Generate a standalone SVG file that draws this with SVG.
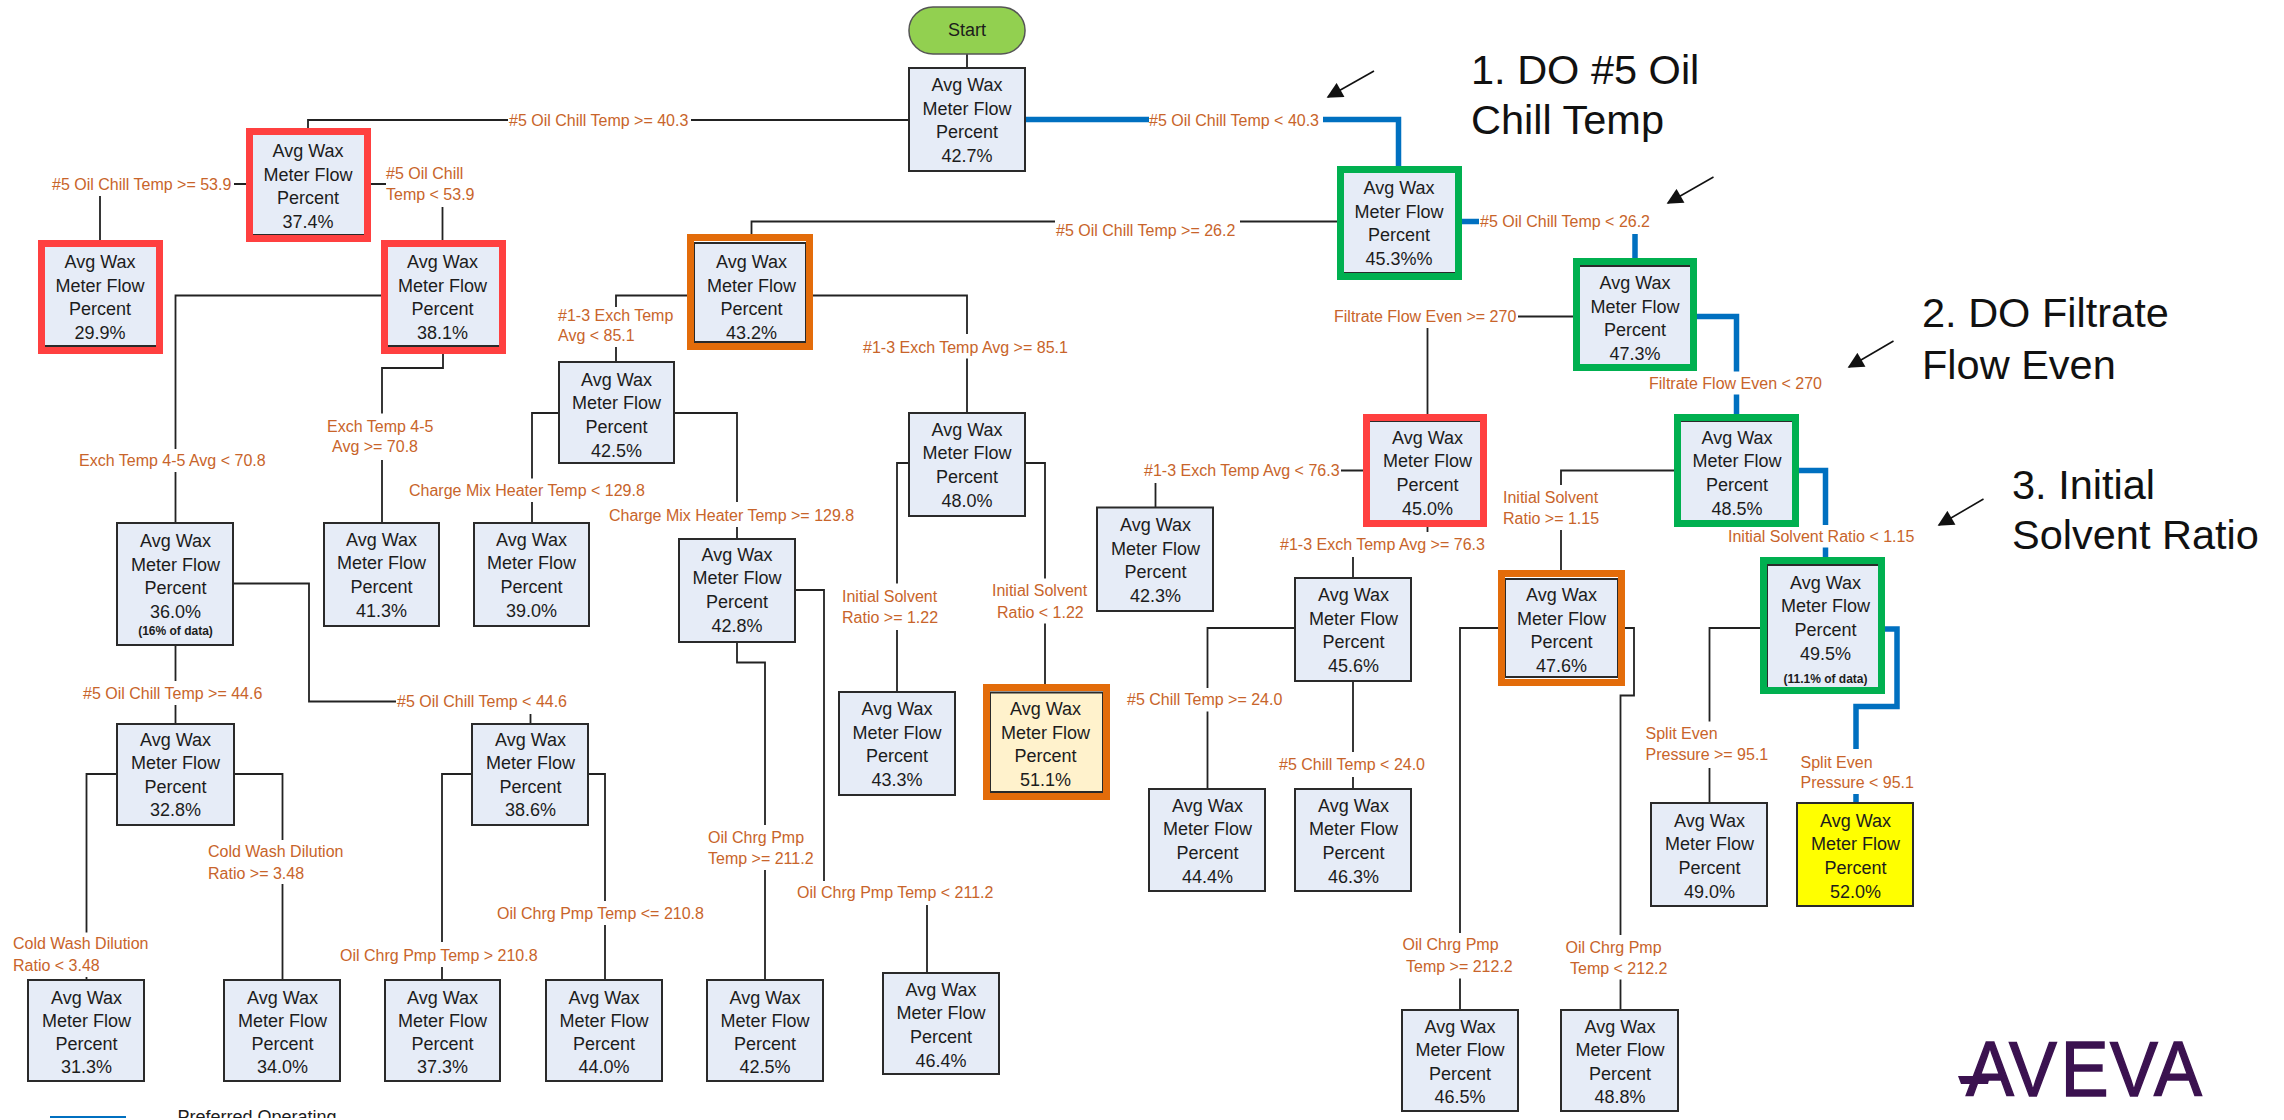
<svg xmlns="http://www.w3.org/2000/svg" width="2284" height="1120" viewBox="0 0 2284 1120">
<style>
.box{fill:#E6ECF7;stroke:#2a2a2a;stroke-width:2}
.yel{fill:#FFFF00;stroke:#2a2a2a;stroke-width:2}
.cream{fill:#FFF2CC;stroke:#2a2a2a;stroke-width:2}
.hr,.ho,.hg{fill:none;stroke-width:7}
.hr{stroke:#FF4040}.ho{stroke:#E36C0A}.hg{stroke:#00B050}
text{font-family:"Liberation Sans",Arial,sans-serif}
.t{font-size:18px;fill:#1c1c1c;text-anchor:middle}
.s{font-size:12px;font-weight:bold;fill:#1c1c1c;text-anchor:middle}
.l{font-size:16px;fill:#C8642A}
.c{font-size:41.500px;fill:#111}
.k path,.k line{fill:none;stroke:#222;stroke-width:1.8}
.b path{fill:none;stroke:#0070C0;stroke-width:5.5}
.a line{stroke:#111;stroke-width:1.6}
</style>
<defs>
<marker id="ah" markerWidth="18" markerHeight="16" refX="9" refY="5" orient="auto" markerUnits="userSpaceOnUse" viewBox="0 0 10 10"><path d="M0 0L10 5L0 10Z" fill="#111"/></marker>
</defs>
<g id="connectors">
<g class="k">
<path d="M967 54V68"/>
<path d="M909 120H691M508 120H308V128"/>
<path d="M246 184H234M100 196V240"/>
<path d="M371 184H386M442.500 207V240"/>
<path d="M381 295.500H175.500V449M175.500 472V523"/>
<path d="M443 346V368H382V413.500M382 460V523"/>
<path d="M1337 221.500H1240M1055 221.500H751.500V234"/>
<path d="M687 295.500H616V307M616 347V362"/>
<path d="M813 295.500H967V334M967 358.500V413"/>
<path d="M559 413H532V478.500M532 502V523"/>
<path d="M674 413H737V502M737 527V539"/>
<path d="M909 463H897V583.500M897 630V692"/>
<path d="M1025 463H1045V578.500M1045 623.500V684"/>
<path d="M175.500 645V681M175.500 705V724"/>
<path d="M233 583.500H309V701.500H396M530.500 714V724"/>
<path d="M117 774H86.500V932.500M86.500 977V980"/>
<path d="M234 774H282.500V840M282.500 884V980"/>
<path d="M472 774H442V942M442 967V980"/>
<path d="M588 774H605V901M605 925V980"/>
<path d="M737 642V662.500H765V825M765 870V980"/>
<path d="M795 590H824V881M927 905V973"/>
<path d="M1573 316.500H1518M1427.500 328V414"/>
<path d="M1674 470.500H1561V485M1561 530V570"/>
<path d="M1363 470.500H1341M1155.500 483V507.500"/>
<path d="M1427.500 527V532M1353 557V578"/>
<path d="M1295 628H1207.500V688M1207.500 711.500V789"/>
<path d="M1353 681V752M1353 777V789"/>
<path d="M1498 628H1460V933M1460 978.500V1010"/>
<path d="M1625 628H1634V695.500H1620.500V935M1620.500 979.500V1010"/>
<path d="M1760 628H1709.500V721.500M1709.500 768V803"/>
</g>
<g class="b">
<path d="M1022 119.500H1149M1323 119.500H1398.500V166"/>
<path d="M1455 221.500H1479M1635 234V266"/>
<path d="M1690 316.500H1736.500V371.500M1736.500 394.500V421"/>
<path d="M1792 470.500H1825.500V525M1825.500 547.500V565"/>
<path d="M1881 629H1897V706.500H1856V749M1856 794V803"/>
</g>
</g>
<g id="edge-labels">
<text class="l" x="509" y="125.500">#5 Oil Chill Temp &gt;= 40.3</text>
<text class="l" x="1149" y="125.500">#5 Oil Chill Temp &lt; 40.3</text>
<text class="l" x="52" y="189.500">#5 Oil Chill Temp &gt;= 53.9</text>
<text class="l" x="386" y="178.500">#5 Oil Chill</text>
<text class="l" x="386" y="199.500">Temp &lt; 53.9</text>
<text class="l" x="1056" y="235.500">#5 Oil Chill Temp &gt;= 26.2</text>
<text class="l" x="1480" y="226.500">#5 Oil Chill Temp &lt; 26.2</text>
<text class="l" x="1334" y="321.500">Filtrate Flow Even &gt;= 270</text>
<text class="l" x="1649" y="388.500">Filtrate Flow Even &lt; 270</text>
<text class="l" x="558" y="320.500">#1-3 Exch Temp</text>
<text class="l" x="558" y="340.500">Avg &lt; 85.1</text>
<text class="l" x="863" y="352.500">#1-3 Exch Temp Avg &gt;= 85.1</text>
<text class="l" x="79" y="465.500">Exch Temp 4-5 Avg &lt; 70.8</text>
<text class="l" x="327" y="431.500">Exch Temp 4-5</text>
<text class="l" x="332" y="451.500">Avg &gt;= 70.8</text>
<text class="l" x="409" y="495.500">Charge Mix Heater Temp &lt; 129.8</text>
<text class="l" x="609" y="520.500">Charge Mix Heater Temp &gt;= 129.8</text>
<text class="l" x="842" y="601.500">Initial Solvent</text>
<text class="l" x="842" y="623">Ratio &gt;= 1.22</text>
<text class="l" x="992" y="595.500">Initial Solvent</text>
<text class="l" x="997" y="617.500">Ratio &lt; 1.22</text>
<text class="l" x="83" y="698.500">#5 Oil Chill Temp &gt;= 44.6</text>
<text class="l" x="397" y="707">#5 Oil Chill Temp &lt; 44.6</text>
<text class="l" x="208" y="856.500">Cold Wash Dilution</text>
<text class="l" x="208" y="878.500">Ratio &gt;= 3.48</text>
<text class="l" x="13" y="948.500">Cold Wash Dilution</text>
<text class="l" x="13" y="970.500">Ratio &lt; 3.48</text>
<text class="l" x="340" y="960.500">Oil Chrg Pmp Temp &gt; 210.8</text>
<text class="l" x="497" y="918.500">Oil Chrg Pmp Temp &lt;= 210.8</text>
<text class="l" x="708" y="843">Oil Chrg Pmp</text>
<text class="l" x="708" y="863.500">Temp &gt;= 211.2</text>
<text class="l" x="797" y="898">Oil Chrg Pmp Temp &lt; 211.2</text>
<text class="l" x="1144" y="476">#1-3 Exch Temp Avg &lt; 76.3</text>
<text class="l" x="1280" y="550">#1-3 Exch Temp Avg &gt;= 76.3</text>
<text class="l" x="1503" y="502.500">Initial Solvent</text>
<text class="l" x="1503" y="523.500">Ratio &gt;= 1.15</text>
<text class="l" x="1728" y="541.500">Initial Solvent Ratio &lt; 1.15</text>
<text class="l" x="1127" y="704.500">#5 Chill Temp &gt;= 24.0</text>
<text class="l" x="1279" y="770">#5 Chill Temp &lt; 24.0</text>
<text class="l" x="1402.500" y="949.500">Oil Chrg Pmp</text>
<text class="l" x="1406" y="972">Temp &gt;= 212.2</text>
<text class="l" x="1565.500" y="953">Oil Chrg Pmp</text>
<text class="l" x="1570" y="973.500">Temp &lt; 212.2</text>
<text class="l" x="1645.500" y="739">Split Even</text>
<text class="l" x="1645.500" y="759.500">Pressure &gt;= 95.1</text>
<text class="l" x="1800.500" y="767.500">Split Even</text>
<text class="l" x="1800.500" y="788">Pressure &lt; 95.1</text>
</g>
<g id="start"><rect x="909" y="7" width="116" height="47" rx="24" ry="23" fill="#92D050" stroke="#555" stroke-width="1.500"/><text class="t" x="967" y="36">Start</text></g>
<g id="n-root"><rect class="box" x="909" y="68" width="116" height="103"/><text class="t" y="91"><tspan x="967">Avg Wax</tspan><tspan x="967" dy="23.700">Meter Flow</tspan><tspan x="967" dy="23.700">Percent</tspan><tspan x="967" dy="23.700">42.7%</tspan></text></g>
<g id="n-374"><rect class="box" x="252" y="134" width="113" height="101"/><rect class="hr" x="249.500" y="131.500" width="118" height="107"/><text class="t" y="157"><tspan x="308">Avg Wax</tspan><tspan x="308" dy="23.700">Meter Flow</tspan><tspan x="308" dy="23.700">Percent</tspan><tspan x="308" dy="23.700">37.4%</tspan></text></g>
<g id="n-299"><rect class="box" x="44" y="246" width="113" height="100"/><rect class="hr" x="41.500" y="243.500" width="118" height="107"/><text class="t" y="268"><tspan x="100">Avg Wax</tspan><tspan x="100" dy="23.700">Meter Flow</tspan><tspan x="100" dy="23.700">Percent</tspan><tspan x="100" dy="23.700">29.9%</tspan></text></g>
<g id="n-381"><rect class="box" x="386" y="246" width="114" height="100"/><rect class="hr" x="384.500" y="243.500" width="118" height="107"/><text class="t" y="268"><tspan x="442.500">Avg Wax</tspan><tspan x="442.500" dy="23.700">Meter Flow</tspan><tspan x="442.500" dy="23.700">Percent</tspan><tspan x="442.500" dy="23.700">38.1%</tspan></text></g>
<g id="n-432"><rect class="box" x="694" y="243" width="112" height="99"/><rect class="ho" x="690.500" y="237.500" width="119" height="109"/><text class="t" y="268"><tspan x="751.500">Avg Wax</tspan><tspan x="751.500" dy="23.700">Meter Flow</tspan><tspan x="751.500" dy="23.700">Percent</tspan><tspan x="751.500" dy="23.700">43.2%</tspan></text></g>
<g id="n-425a"><rect class="box" x="559" y="362" width="115" height="101"/><text class="t" y="385.500"><tspan x="616.500">Avg Wax</tspan><tspan x="616.500" dy="23.700">Meter Flow</tspan><tspan x="616.500" dy="23.700">Percent</tspan><tspan x="616.500" dy="23.700">42.5%</tspan></text></g>
<g id="n-360"><rect class="box" x="117" y="523" width="116" height="122"/><text class="t" y="547"><tspan x="175.500">Avg Wax</tspan><tspan x="175.500" dy="23.700">Meter Flow</tspan><tspan x="175.500" dy="23.700">Percent</tspan><tspan x="175.500" dy="23.700">36.0%</tspan></text><text class="s" x="175.500" y="635">(16% of data)</text></g>
<g id="n-413"><rect class="box" x="324" y="523" width="115" height="103"/><text class="t" y="545.500"><tspan x="381.500">Avg Wax</tspan><tspan x="381.500" dy="23.700">Meter Flow</tspan><tspan x="381.500" dy="23.700">Percent</tspan><tspan x="381.500" dy="23.700">41.3%</tspan></text></g>
<g id="n-390"><rect class="box" x="474" y="523" width="115" height="103"/><text class="t" y="545.500"><tspan x="531.500">Avg Wax</tspan><tspan x="531.500" dy="23.700">Meter Flow</tspan><tspan x="531.500" dy="23.700">Percent</tspan><tspan x="531.500" dy="23.700">39.0%</tspan></text></g>
<g id="n-428"><rect class="box" x="679" y="539" width="116" height="103"/><text class="t" y="560.500"><tspan x="737">Avg Wax</tspan><tspan x="737" dy="23.700">Meter Flow</tspan><tspan x="737" dy="23.700">Percent</tspan><tspan x="737" dy="23.700">42.8%</tspan></text></g>
<g id="n-480"><rect class="box" x="909" y="413" width="116" height="103"/><text class="t" y="435.500"><tspan x="967">Avg Wax</tspan><tspan x="967" dy="23.700">Meter Flow</tspan><tspan x="967" dy="23.700">Percent</tspan><tspan x="967" dy="23.700">48.0%</tspan></text></g>
<g id="n-453"><rect class="box" x="1342" y="172" width="115" height="101"/><rect class="hg" x="1340.500" y="169.500" width="118" height="107"/><text class="t" y="194"><tspan x="1399">Avg Wax</tspan><tspan x="1399" dy="23.700">Meter Flow</tspan><tspan x="1399" dy="23.700">Percent</tspan><tspan x="1399" dy="23.700">45.3%%</tspan></text></g>
<g id="n-473"><rect class="box" x="1578" y="266" width="114" height="101"/><rect class="hg" x="1576.500" y="261.500" width="117" height="106"/><text class="t" y="289"><tspan x="1635">Avg Wax</tspan><tspan x="1635" dy="23.700">Meter Flow</tspan><tspan x="1635" dy="23.700">Percent</tspan><tspan x="1635" dy="23.700">47.3%</tspan></text></g>
<g id="n-485"><rect class="box" x="1680" y="421" width="114" height="102"/><rect class="hg" x="1677.500" y="417.500" width="118" height="106"/><text class="t" y="443.500"><tspan x="1737">Avg Wax</tspan><tspan x="1737" dy="23.700">Meter Flow</tspan><tspan x="1737" dy="23.700">Percent</tspan><tspan x="1737" dy="23.700">48.5%</tspan></text></g>
<g id="n-450"><rect class="box" x="1369" y="421" width="114" height="102"/><rect class="hr" x="1366.500" y="417.500" width="117" height="106"/><text class="t" y="443.500"><tspan x="1427.500">Avg Wax</tspan><tspan x="1427.500" dy="23.700">Meter Flow</tspan><tspan x="1427.500" dy="23.700">Percent</tspan><tspan x="1427.500" dy="23.700">45.0%</tspan></text></g>
<g id="n-423"><rect class="box" x="1097" y="507.500" width="116" height="103.500"/><text class="t" y="531"><tspan x="1155.500">Avg Wax</tspan><tspan x="1155.500" dy="23.700">Meter Flow</tspan><tspan x="1155.500" dy="23.700">Percent</tspan><tspan x="1155.500" dy="23.700">42.3%</tspan></text></g>
<g id="n-456"><rect class="box" x="1295" y="578" width="116" height="103"/><text class="t" y="601"><tspan x="1353.500">Avg Wax</tspan><tspan x="1353.500" dy="23.700">Meter Flow</tspan><tspan x="1353.500" dy="23.700">Percent</tspan><tspan x="1353.500" dy="23.700">45.6%</tspan></text></g>
<g id="n-476"><rect class="box" x="1505" y="579" width="113" height="98"/><rect class="ho" x="1501.500" y="573.500" width="120" height="109"/><text class="t" y="601"><tspan x="1561.500">Avg Wax</tspan><tspan x="1561.500" dy="23.700">Meter Flow</tspan><tspan x="1561.500" dy="23.700">Percent</tspan><tspan x="1561.500" dy="23.700">47.6%</tspan></text></g>
<g id="n-495"><rect class="box" x="1767" y="565" width="113" height="123"/><rect class="hg" x="1763.500" y="560.500" width="118" height="130"/><text class="t" y="588.500"><tspan x="1825.500">Avg Wax</tspan><tspan x="1825.500" dy="23.700">Meter Flow</tspan><tspan x="1825.500" dy="23.700">Percent</tspan><tspan x="1825.500" dy="23.700">49.5%</tspan></text><text class="s" x="1825.500" y="683">(11.1% of data)</text></g>
<g id="n-490"><rect class="box" x="1651" y="803" width="116" height="103"/><text class="t" y="826.500"><tspan x="1709.500">Avg Wax</tspan><tspan x="1709.500" dy="23.700">Meter Flow</tspan><tspan x="1709.500" dy="23.700">Percent</tspan><tspan x="1709.500" dy="23.700">49.0%</tspan></text></g>
<g id="n-520"><rect class="yel" x="1797" y="803" width="116" height="103"/><text class="t" y="826.500"><tspan x="1855.500">Avg Wax</tspan><tspan x="1855.500" dy="23.700">Meter Flow</tspan><tspan x="1855.500" dy="23.700">Percent</tspan><tspan x="1855.500" dy="23.700">52.0%</tspan></text></g>
<g id="n-433"><rect class="box" x="839" y="692" width="116" height="103"/><text class="t" y="715"><tspan x="897">Avg Wax</tspan><tspan x="897" dy="23.700">Meter Flow</tspan><tspan x="897" dy="23.700">Percent</tspan><tspan x="897" dy="23.700">43.3%</tspan></text></g>
<g id="n-511"><rect class="cream" x="990" y="692.500" width="113" height="99.500"/><rect class="ho" x="986.500" y="687.500" width="120" height="109"/><text class="t" y="715"><tspan x="1045.500">Avg Wax</tspan><tspan x="1045.500" dy="23.700">Meter Flow</tspan><tspan x="1045.500" dy="23.700">Percent</tspan><tspan x="1045.500" dy="23.700">51.1%</tspan></text></g>
<g id="n-444"><rect class="box" x="1149" y="789" width="116" height="102"/><text class="t" y="811.500"><tspan x="1207.500">Avg Wax</tspan><tspan x="1207.500" dy="23.700">Meter Flow</tspan><tspan x="1207.500" dy="23.700">Percent</tspan><tspan x="1207.500" dy="23.700">44.4%</tspan></text></g>
<g id="n-463"><rect class="box" x="1295" y="789" width="116" height="102"/><text class="t" y="811.500"><tspan x="1353.500">Avg Wax</tspan><tspan x="1353.500" dy="23.700">Meter Flow</tspan><tspan x="1353.500" dy="23.700">Percent</tspan><tspan x="1353.500" dy="23.700">46.3%</tspan></text></g>
<g id="n-464"><rect class="box" x="883" y="973" width="116" height="101"/><text class="t" y="995.500"><tspan x="941">Avg Wax</tspan><tspan x="941" dy="23.700">Meter Flow</tspan><tspan x="941" dy="23.700">Percent</tspan><tspan x="941" dy="23.700">46.4%</tspan></text></g>
<g id="n-465"><rect class="box" x="1402" y="1010" width="116" height="101"/><text class="t" y="1033"><tspan x="1460">Avg Wax</tspan><tspan x="1460" dy="23.300">Meter Flow</tspan><tspan x="1460" dy="23.300">Percent</tspan><tspan x="1460" dy="23.300">46.5%</tspan></text></g>
<g id="n-488"><rect class="box" x="1561" y="1010" width="117" height="101"/><text class="t" y="1033"><tspan x="1620">Avg Wax</tspan><tspan x="1620" dy="23.300">Meter Flow</tspan><tspan x="1620" dy="23.300">Percent</tspan><tspan x="1620" dy="23.300">48.8%</tspan></text></g>
<g id="n-328"><rect class="box" x="117" y="724" width="117" height="101"/><text class="t" y="746"><tspan x="175.500">Avg Wax</tspan><tspan x="175.500" dy="23.300">Meter Flow</tspan><tspan x="175.500" dy="23.300">Percent</tspan><tspan x="175.500" dy="23.300">32.8%</tspan></text></g>
<g id="n-386"><rect class="box" x="472" y="724" width="116" height="101"/><text class="t" y="746"><tspan x="530.500">Avg Wax</tspan><tspan x="530.500" dy="23.300">Meter Flow</tspan><tspan x="530.500" dy="23.300">Percent</tspan><tspan x="530.500" dy="23.300">38.6%</tspan></text></g>
<g id="n-313"><rect class="box" x="28" y="980" width="116" height="101"/><text class="t" y="1003.500"><tspan x="86.500">Avg Wax</tspan><tspan x="86.500" dy="23.300">Meter Flow</tspan><tspan x="86.500" dy="23.300">Percent</tspan><tspan x="86.500" dy="23.300">31.3%</tspan></text></g>
<g id="n-340"><rect class="box" x="224" y="980" width="116" height="101"/><text class="t" y="1003.500"><tspan x="282.500">Avg Wax</tspan><tspan x="282.500" dy="23.300">Meter Flow</tspan><tspan x="282.500" dy="23.300">Percent</tspan><tspan x="282.500" dy="23.300">34.0%</tspan></text></g>
<g id="n-373"><rect class="box" x="385" y="980" width="115" height="101"/><text class="t" y="1003.500"><tspan x="442.500">Avg Wax</tspan><tspan x="442.500" dy="23.300">Meter Flow</tspan><tspan x="442.500" dy="23.300">Percent</tspan><tspan x="442.500" dy="23.300">37.3%</tspan></text></g>
<g id="n-440"><rect class="box" x="546" y="980" width="116" height="101"/><text class="t" y="1003.500"><tspan x="604">Avg Wax</tspan><tspan x="604" dy="23.300">Meter Flow</tspan><tspan x="604" dy="23.300">Percent</tspan><tspan x="604" dy="23.300">44.0%</tspan></text></g>
<g id="n-425b"><rect class="box" x="707" y="980" width="116" height="101"/><text class="t" y="1003.500"><tspan x="765">Avg Wax</tspan><tspan x="765" dy="23.300">Meter Flow</tspan><tspan x="765" dy="23.300">Percent</tspan><tspan x="765" dy="23.300">42.5%</tspan></text></g>
<g id="callouts">
<text class="c" x="1471" y="84">1. DO #5 Oil</text>
<text class="c" x="1471" y="134">Chill Temp</text>
<text class="c" x="1922" y="327">2. DO Filtrate</text>
<text class="c" x="1922" y="378.500">Flow Even</text>
<text class="c" x="2012" y="499">3. Initial</text>
<text class="c" x="2012" y="549">Solvent Ratio</text>
</g>
<g id="arrows" class="a">
<line x1="1374" y1="71" x2="1328" y2="97" marker-end="url(#ah)"/>
<line x1="1713.500" y1="177" x2="1668" y2="203" marker-end="url(#ah)"/>
<line x1="1893.500" y1="341" x2="1849" y2="367" marker-end="url(#ah)"/>
<line x1="1983.500" y1="499" x2="1939" y2="525" marker-end="url(#ah)"/>
</g>
<g id="logo">
<text transform="translate(1966 1096) scale(.92 1)" x="0 46.700 103 156.500 204.300" y="0" font-size="78" fill="#3B1250" stroke="#3B1250" stroke-width="1.500">AVEVA</text>
<polygon points="1958,1076 1990,1076 1988,1084 1961,1084" fill="#3B1250"/>
</g>
<g id="legend">
<rect x="50" y="1116" width="76" height="2" fill="#0070C0"/>
<text x="177.500" y="1123" font-size="18" fill="#1c1c1c">Preferred Operating</text>
<rect x="0" y="1118" width="2284" height="2" fill="#fff"/>
</g>
</svg>
